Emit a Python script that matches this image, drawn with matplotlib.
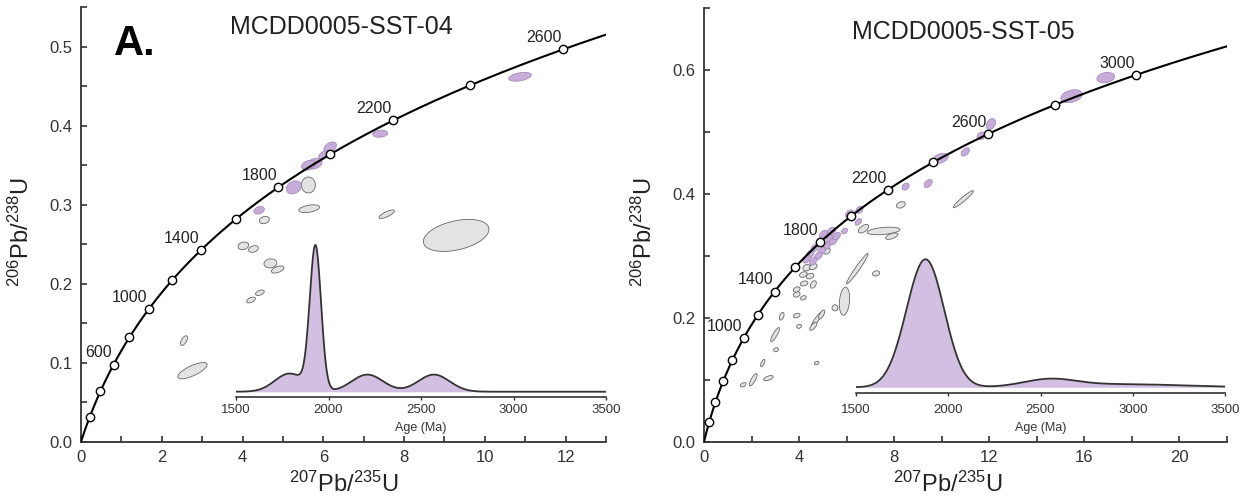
import numpy as np
import matplotlib.pyplot as plt
from matplotlib.patches import Polygon
from matplotlib.ticker import MultipleLocator

plt.rcParams['font.family'] = ['Liberation Sans', 'DejaVu Sans']
plt.rcParams['mathtext.fontset'] = 'custom'
plt.rcParams['mathtext.rm'] = 'Liberation Sans'
plt.rcParams['mathtext.it'] = 'Liberation Sans:italic'

# decay constants (1/yr)
L238 = 1.55125e-10
L235 = 9.8485e-10

# ---------------- MCDD0005-SST-04 ----------------
marker_ages_04 = [200, 400, 600, 800, 1000, 1200, 1400, 1600, 1800, 2000, 2200, 2400, 2600]
label_ages_04 = [600, 1000, 1400, 1800, 2200, 2600]

# analyses: 207Pb/235U, 206Pb/238U, err x, err y, rho
conc_04 = [
    (10.87, 0.462, 0.281, 0.0056, 0.40),
    (7.41, 0.390, 0.185, 0.0045, 0.14),
    (6.17, 0.3727, 0.156, 0.0069, 0.39),
    (6.02, 0.363, 0.136, 0.0054, 0.44),
    (5.78, 0.352, 0.191, 0.0069, 0.30),
    (5.63, 0.350, 0.167, 0.0062, 0.28),
    (5.27, 0.322, 0.187, 0.0083, 0.24),
    (4.41, 0.293, 0.131, 0.0048, 0.29),
]
disc_04 = [
    (5.63, 0.325, 0.173, 0.0101, 0.0),
    (5.65, 0.295, 0.256, 0.0049, 0.41),
    (4.54, 0.2806, 0.124, 0.0046, 0.20),
    (7.57, 0.288, 0.192, 0.0054, 0.77),
    (9.29, 0.2612, 0.812, 0.0203, 0.38),
    (4.02, 0.248, 0.131, 0.0048, 0.20),
    (4.27, 0.244, 0.120, 0.0042, 0.30),
    (4.69, 0.2258, 0.160, 0.0057, 0.10),
    (4.87, 0.218, 0.155, 0.0045, 0.50),
    (4.43, 0.1886, 0.108, 0.0035, 0.45),
    (4.21, 0.1794, 0.108, 0.0036, 0.50),
    (2.55, 0.128, 0.087, 0.0062, 0.60),
    (2.76, 0.0899, 0.363, 0.0103, 0.74),
]
# concordant ages (Ma) and 1 sigma used in the probability density plot
pdp_ages_04 = [1790, 1918, 1930, 1940, 2210, 2570]
pdp_sig_04 = [80, 30, 28, 30, 85, 85]

# ---------------- MCDD0005-SST-05 ----------------
marker_ages_05 = [200, 400, 600, 800, 1000, 1200, 1400, 1600, 1800, 2000, 2200, 2400, 2600, 2800, 3000]
label_ages_05 = [1000, 1400, 1800, 2200, 2600, 3000]

conc_05 = [
    (16.90, 0.588, 0.375, 0.0084, 0.21),
    (15.46, 0.558, 0.452, 0.0105, 0.31),
    (12.07, 0.513, 0.193, 0.0090, 0.34),
    (11.66, 0.494, 0.173, 0.0063, 0.25),
    (9.95, 0.4577, 0.323, 0.0082, 0.36),
    (10.99, 0.468, 0.174, 0.0067, 0.47),
    (8.48, 0.412, 0.149, 0.0057, 0.28),
    (9.43, 0.417, 0.170, 0.0065, 0.45),
    (6.54, 0.3744, 0.150, 0.0055, 0.30),
    (6.14, 0.3674, 0.190, 0.0068, 0.25),
    (6.49, 0.355, 0.140, 0.0053, 0.45),
    (5.91, 0.3404, 0.130, 0.0045, 0.30),
    (5.37, 0.3404, 0.170, 0.0060, 0.30),
    (5.02, 0.335, 0.170, 0.0065, 0.45),
    (5.30, 0.327, 0.170, 0.0065, 0.40),
    (4.88, 0.3215, 0.170, 0.0065, 0.45),
    (5.16, 0.316, 0.160, 0.0060, 0.40),
    (4.67, 0.3134, 0.170, 0.0065, 0.45),
    (4.95, 0.308, 0.160, 0.0060, 0.40),
    (4.46, 0.3026, 0.170, 0.0065, 0.45),
    (4.81, 0.300, 0.160, 0.0060, 0.40),
    (5.44, 0.324, 0.160, 0.0060, 0.40),
    (5.58, 0.332, 0.160, 0.0060, 0.40),
    (4.60, 0.2917, 0.160, 0.0060, 0.45),
    (4.32, 0.2945, 0.160, 0.0060, 0.45),
]
disc_05 = [
    (5.16, 0.308, 0.150, 0.0050, 0.30),
    (6.71, 0.344, 0.219, 0.0069, 0.58),
    (7.55, 0.3404, 0.692, 0.0061, 0.37),
    (7.90, 0.332, 0.260, 0.0052, 0.58),
    (8.28, 0.3825, 0.185, 0.0052, 0.30),
    (10.91, 0.3917, 0.423, 0.0138, 0.95),
    (4.32, 0.281, 0.160, 0.0052, 0.20),
    (4.60, 0.2826, 0.160, 0.0047, 0.40),
    (4.18, 0.270, 0.160, 0.0045, 0.30),
    (4.46, 0.2675, 0.160, 0.0045, 0.30),
    (4.60, 0.254, 0.124, 0.0060, 0.39),
    (4.21, 0.2556, 0.160, 0.0040, 0.30),
    (3.90, 0.2378, 0.140, 0.0043, 0.20),
    (4.18, 0.2324, 0.120, 0.0035, 0.30),
    (3.90, 0.2459, 0.140, 0.0043, 0.30),
    (6.45, 0.2794, 0.452, 0.0246, 0.97),
    (7.24, 0.2718, 0.150, 0.0042, 0.20),
    (5.91, 0.2269, 0.216, 0.0226, 0.21),
    (5.51, 0.2162, 0.126, 0.0049, 0.0),
    (4.74, 0.1972, 0.228, 0.0121, 0.90),
    (4.95, 0.2054, 0.128, 0.0072, 0.67),
    (4.60, 0.1864, 0.150, 0.0065, 0.70),
    (3.27, 0.2026, 0.098, 0.0062, 0.43),
    (3.90, 0.2037, 0.140, 0.0037, 0.30),
    (4.00, 0.1864, 0.100, 0.0033, 0.20),
    (2.99, 0.173, 0.183, 0.0113, 0.85),
    (3.03, 0.1486, 0.100, 0.0033, 0.20),
    (2.47, 0.127, 0.091, 0.0060, 0.66),
    (2.07, 0.100, 0.164, 0.0100, 0.81),
    (1.65, 0.0919, 0.120, 0.0035, 0.40),
    (2.71, 0.1027, 0.200, 0.0041, 0.56),
    (4.74, 0.127, 0.100, 0.0027, 0.30),
]
pdp_ages_05 = [1760, 1800, 1825, 1845, 1860, 1870, 1878, 1885, 1895, 1905, 1920, 1945, 1980,
               2550, 2950]
pdp_sig_05 = [85, 85, 85, 85, 85, 85, 85, 85, 85, 85, 85, 85, 85, 140, 330]

PURPLE = '#c7acd9'
PURPLE_EDGE = '#9c82b5'
PDP_FILL = '#d3bfe2'
GREY = '#e3e3e3'
GREY_EDGE = '#666666'
AXCOL = '#333333'


def concordia(t_ma):
    t = np.asarray(t_ma, dtype=float) * 1e6
    return np.expm1(L235 * t), np.expm1(L238 * t)


def error_ellipse(ax, x, y, dx, dy, rho, **kw):
    cov = np.array([[dx * dx, rho * dx * dy], [rho * dx * dy, dy * dy]])
    chol = np.linalg.cholesky(cov)
    a = np.linspace(0, 2 * np.pi, 72)
    pts = (chol @ np.vstack([np.cos(a), np.sin(a)])).T + [x, y]
    ax.add_patch(Polygon(pts, closed=True, **kw))


def pdp(ages, sigmas, grid):
    dens = np.zeros_like(grid)
    for a, s in zip(ages, sigmas):
        dens += np.exp(-0.5 * ((grid - a) / s) ** 2) / s
    return dens / dens.max()


def style_axes(ax):
    for side in ('top', 'right'):
        ax.spines[side].set_visible(False)
    for side in ('left', 'bottom'):
        ax.spines[side].set_color(AXCOL)
        ax.spines[side].set_linewidth(1.3)
    ax.tick_params(which='both', direction='in', length=4, width=1.2, color=AXCOL,
                   labelsize=12, labelcolor=AXCOL)
    ax.tick_params(axis='x', pad=6)
    ax.tick_params(axis='y', pad=6)


def concordia_panel(ax, xmax, ymax, markers, labels, conc, disc, title, title_y):
    style_axes(ax)
    ax.set_xlim(0, xmax)
    ax.set_ylim(0, ymax)

    for e in disc:
        error_ellipse(ax, *e, fc=GREY, ec=GREY_EDGE, lw=0.6, zorder=2)
    for e in conc:
        error_ellipse(ax, *e, fc=PURPLE, ec=PURPLE_EDGE, lw=0.5, zorder=3)

    t = np.linspace(0, 3400, 600)
    cx, cy = concordia(t)
    ax.plot(cx, cy, color='black', lw=1.5, zorder=4)
    mx, my = concordia(markers)
    ax.plot(mx, my, 'o', ms=6, mfc='white', mec='black', mew=1.0, zorder=5)
    for age in labels:
        lx, ly = concordia(age)
        ax.annotate(str(age), (lx, ly), xytext=(-1, 3), textcoords='offset points',
                    ha='right', va='bottom', fontsize=11.5, color='#222222', zorder=6)

    ax.text(0.495, title_y, title, transform=ax.transAxes, ha='center', va='center',
            fontsize=18, color='#222222')
    ax.set_xlabel(r'$^{207}$Pb/$^{235}$U', fontsize=17, color='#222222')
    ax.set_ylabel(r'$^{206}$Pb/$^{238}$U', fontsize=17, color='#222222')
    ax.yaxis.set_label_coords(-0.09, 0.483)


def pdp_inset(fig, rect, ages, sigmas, ylo, yhi, tick_pad):
    ins = fig.add_axes(rect)
    ins.set_facecolor('none')
    grid = np.linspace(1500, 3500, 800)
    dens = pdp(ages, sigmas, grid)
    ins.fill_between(grid, 0, dens, color=PDP_FILL, lw=0)
    ins.plot(grid, dens, color='#333333', lw=1.3)
    ins.set_xlim(1500, 3500)
    ins.set_ylim(ylo, yhi)
    for side in ('top', 'right', 'left'):
        ins.spines[side].set_visible(False)
    ins.spines['bottom'].set_color(AXCOL)
    ins.spines['bottom'].set_linewidth(1.2)
    ins.set_yticks([])
    ins.set_xticks([1500, 2000, 2500, 3000, 3500])
    ins.tick_params(axis='x', direction='out', length=2.5, width=1.0, color=AXCOL,
                    labelsize=9.5, labelcolor=AXCOL, pad=tick_pad)
    ins.set_xlabel('Age (Ma)', fontsize=9, color=AXCOL, labelpad=4)
    return ins


W, H = 1250, 498
fig = plt.figure(figsize=(W / 100, H / 100), dpi=100)

ax1 = fig.add_axes([81 / W, 1 - 441.7 / H, 525 / W, 434.4 / H])
concordia_panel(ax1, 13, 0.55, marker_ages_04, label_ages_04, conc_04, disc_04,
                'MCDD0005-SST-04', 0.955)
ax1.xaxis.set_major_locator(MultipleLocator(2))
ax1.xaxis.set_minor_locator(MultipleLocator(1))
ax1.yaxis.set_major_locator(MultipleLocator(0.1))
ax1.yaxis.set_minor_locator(MultipleLocator(0.05))
ax1.yaxis.set_major_formatter(lambda v, p: f'{v:.1f}')
ax1.xaxis.set_label_coords(0.5, -0.07)
ax1.text(0.103, 0.915, 'A.', transform=ax1.transAxes, ha='center', va='center',
         fontsize=30, fontweight='bold', color='black')

ax2 = fig.add_axes([704 / W, 1 - 441.7 / H, 523 / W, 433.4 / H])
concordia_panel(ax2, 22, 0.70, marker_ages_05, label_ages_05, conc_05, disc_05,
                'MCDD0005-SST-05', 0.945)
ax2.xaxis.set_major_locator(MultipleLocator(4))
ax2.xaxis.set_minor_locator(MultipleLocator(2))
ax2.yaxis.set_major_locator(MultipleLocator(0.2))
ax2.yaxis.set_minor_locator(MultipleLocator(0.1))
ax2.yaxis.set_major_formatter(lambda v, p: f'{v:.1f}')
ax2.xaxis.set_label_coords(0.466, -0.07)

pdp_inset(fig, [236 / W, 1 - 397 / H, 370 / W, 157 / H], pdp_ages_04, pdp_sig_04,
          -0.036, 1.034, 2.5)
pdp_inset(fig, [856 / W, 1 - 393.3 / H, 369 / W, 139.3 / H], pdp_ages_05, pdp_sig_05,
          -0.047, 1.041, 5.5)

fig.savefig('out.png', dpi=100)
